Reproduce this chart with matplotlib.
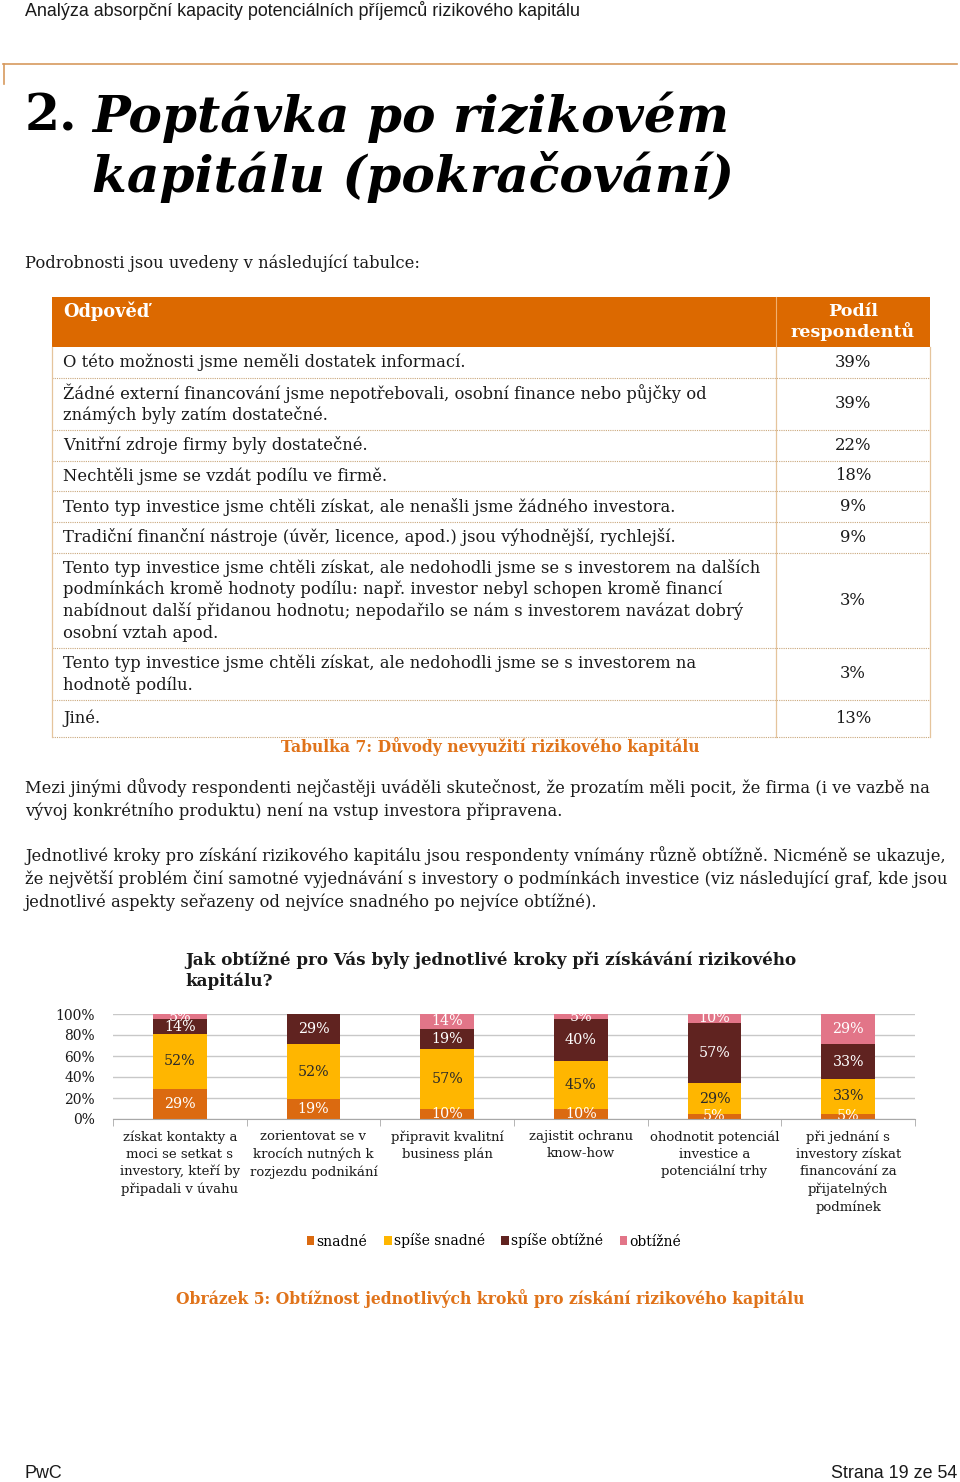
import matplotlib
matplotlib.use('Agg')
import matplotlib.pyplot as plt
from matplotlib.patches import Rectangle
from matplotlib.lines import Line2D

# ---------------- data ----------------
page_header = "Analýza absorpční kapacity potenciálních příjemců rizikového kapitálu"
title_num = "2."
title_lines = ["Poptávka po rizikovém", "kapitálu (pokračování)"]
intro = "Podrobnosti jsou uvedeny v následující tabulce:"

table_head = ["Odpověď", "Podíl\nrespondentů"]
table_answers = [
    "O této možnosti jsme neměli dostatek informací.",
    "Žádné externí financování jsme nepotřebovali, osobní finance nebo půjčky od\nznámých byly zatím dostatečné.",
    "Vnitřní zdroje firmy byly dostatečné.",
    "Nechtěli jsme se vzdát podílu ve firmě.",
    "Tento typ investice jsme chtěli získat, ale nenašli jsme žádného investora.",
    "Tradiční finanční nástroje (úvěr, licence, apod.) jsou výhodnější, rychlejší.",
    "Tento typ investice jsme chtěli získat, ale nedohodli jsme se s investorem na dalších\npodmínkách kromě hodnoty podílu: např. investor nebyl schopen kromě financí\nnabídnout další přidanou hodnotu; nepodařilo se nám s investorem navázat dobrý\nosobní vztah apod.",
    "Tento typ investice jsme chtěli získat, ale nedohodli jsme se s investorem na\nhodnotě podílu.",
    "Jiné.",
]
table_shares = [39, 39, 22, 18, 9, 9, 3, 3, 13]
table_caption = "Tabulka 7: Důvody nevyužití rizikového kapitálu"

para1 = ["Mezi jinými důvody respondenti nejčastěji uváděli skutečnost, že prozatím měli pocit, že firma (i ve vazbě na",
         "vývoj konkrétního produktu) není na vstup investora připravena."]
para2 = ["Jednotlivé kroky pro získání rizikového kapitálu jsou respondenty vnímány různě obtížně. Nicméně se ukazuje,",
         "že největší problém činí samotné vyjednávání s investory o podmínkách investice (viz následující graf, kde jsou",
         "jednotlivé aspekty seřazeny od nejvíce snadného po nejvíce obtížné)."]

chart_title = ["Jak obtížné pro Vás byly jednotlivé kroky při získávání rizikového", "kapitálu?"]
categories = [
    "získat kontakty a\nmoci se setkat s\ninvestory, kteří by\npřipadali v úvahu",
    "zorientovat se v\nkrocích nutných k\nrozjezdu podnikání",
    "připravit kvalitní\nbusiness plán",
    "zajistit ochranu\nknow-how",
    "ohodnotit potenciál\ninvestice a\npotenciální trhy",
    "při jednání s\ninvestory získat\nfinancování za\npřijatelných\npodmínek",
]
series_names = ["snadné", "spíše snadné", "spíše obtížné", "obtížné"]
snadne = [29, 19, 10, 10, 5, 5]
spise_snadne = [52, 52, 57, 45, 29, 33]
spise_obtizne = [14, 29, 19, 40, 57, 33]
obtizne = [5, 0, 14, 5, 10, 29]
y_ticks = [0, 20, 40, 60, 80, 100]
figure_caption = "Obrázek 5: Obtížnost jednotlivých kroků pro získání rizikového kapitálu"
footer_left = "PwC"
footer_right = "Strana 19 ze 54"

# ---------------- style ----------------
ORANGE = "#DC6900"
CAPTION = "#E0731A"
SERIES_COLORS = ["#DB6A10", "#FFB600", "#602320", "#E27588"]
LABEL_COLORS = ["white", "#2a2a2a", "white", "white"]
SERIF = "DejaVu Serif"
SANS = "Liberation Sans"
TXT = "#1a1a1a"
BODY = 11.75

W, H = 960, 1482
fig = plt.figure(figsize=(W / 100, H / 100), dpi=100)


def fx(x):
    return x / W


def fy(y):
    return 1 - y / H


def T(x, y, s, size=BODY, family=SERIF, ha="left", va="center", **kw):
    kw.setdefault("color", TXT)
    fig.text(fx(x), fy(y), s, fontsize=size, family=family, ha=ha, va=va, **kw)


def lines(x, y0, dy, text, **kw):
    for i, ln in enumerate(text.split("\n")):
        T(x, y0 + i * dy, ln, **kw)


# page header
T(25, 10, page_header, size=12.9, family=SANS)
fig.add_artist(Line2D([fx(3), fx(957)], [fy(64), fy(64)], color="#D79A5E", lw=1.2))
fig.add_artist(Line2D([fx(3.5), fx(3.5)], [fy(64), fy(84)], color="#D79A5E", lw=1.2))

# title
T(25, 117, title_num, size=36.2, weight="bold", color="black")
T(92, 117, title_lines[0], size=36.2, weight="bold", style="italic", color="black")
T(92, 177, title_lines[1], size=36.2, weight="bold", style="italic", color="black")

T(25, 263, intro, size=11.8)

# table
tl, tm, tr = 52, 776, 930
row_edges = [347, 378, 430, 461, 491, 522, 553, 648, 700, 737]
fig.add_artist(Rectangle((fx(tl), fy(347)), fx(tr) - fx(tl), fy(297) - fy(347),
                         facecolor=ORANGE, edgecolor="none"))
fig.add_artist(Line2D([fx(tm), fx(tm)], [fy(297), fy(347)], color="#F0B070", lw=0.8))
T(63, 311, table_head[0], size=12.8, weight="bold", color="white")
lines(853, 311, 21, table_head[1], size=12.6, weight="bold", color="white", ha="center")

BORDER = "#C9A77C"
for i, ans in enumerate(table_answers):
    top, bot = row_edges[i], row_edges[i + 1]
    n = ans.count("\n") + 1
    dy = 21.5
    y0 = (top + bot) / 2 - (n - 1) * dy / 2
    lines(63, y0, dy, ans)
    T(853, (top + bot) / 2, f"{table_shares[i]}%", ha="center")
for y in row_edges[1:]:
    fig.add_artist(Line2D([fx(tl), fx(tr)], [fy(y), fy(y)], color=BORDER, lw=0.8, ls=(0, (1, 1))))
for x in (tl, tm, tr):
    fig.add_artist(Line2D([fx(x), fx(x)], [fy(347), fy(737)], color="#E5C49C", lw=0.9))
T(490, 747, table_caption, size=11.25, weight="bold", color=CAPTION, ha="center")

# paragraphs
for i, ln in enumerate(para1):
    T(25, 788 + i * 23, ln)
for i, ln in enumerate(para2):
    T(25, 856 + i * 23, ln)

# chart title
for i, ln in enumerate(chart_title):
    T(185, 960 + i * 21, ln, size=12.1, weight="bold")

# chart
ax = fig.add_axes([fx(113), fy(1119), (915 - 113) / W, (1119 - 1014) / H])
series = [snadne, spise_snadne, spise_obtizne, obtizne]
x = list(range(len(categories)))
bottom = [0] * len(categories)
for s_vals, color, lcolor, name in zip(series, SERIES_COLORS, LABEL_COLORS, series_names):
    ax.bar(x, s_vals, bottom=bottom, width=0.4, color=color, label=name, zorder=2)
    for xi, v, b in zip(x, s_vals, bottom):
        if v > 0:
            ax.text(xi, b + v / 2, f"{v}%", ha="center", va="center", color=lcolor,
                    fontsize=10.3, family=SERIF, clip_on=True, zorder=3)
    bottom = [b + v for b, v in zip(bottom, s_vals)]

ax.set_xlim(-0.5, len(categories) - 0.5)
ax.set_ylim(0, 100)
ax.set_yticks(y_ticks)
ax.set_yticklabels([f"{t}%" for t in y_ticks], family=SERIF, fontsize=10, color=TXT)
ax.yaxis.grid(True, color="#C8C8C8", lw=1)
ax.set_axisbelow(True)
for sp in ("left", "top", "right"):
    ax.spines[sp].set_visible(False)
ax.spines["bottom"].set_color("#A8A8A8")
ax.tick_params(axis="y", length=0, pad=13)
ax.set_xticks(x)
ax.set_xticklabels(categories, family=SERIF, fontsize=9.5, color=TXT, linespacing=1.4, va="top")
ax.tick_params(axis="x", which="major", length=0, pad=8)
ax.set_xticks([i - 0.5 for i in range(len(categories) + 1)], minor=True)
ax.tick_params(axis="x", which="minor", length=5, color="#A8A8A8", direction="out")

handles = [Rectangle((0, 0), 1, 1, facecolor=c, edgecolor="none") for c in SERIES_COLORS]
fig.legend(handles, series_names, loc="center", bbox_to_anchor=(fx(494), fy(1241)), ncol=4,
           frameon=False, handlelength=0.55, handleheight=0.55, handletextpad=0.15,
           columnspacing=1.2, prop={"family": SERIF, "size": 10})

T(490, 1299, figure_caption, size=11.25, weight="bold", color=CAPTION, ha="center")

# footer
T(25, 1474, footer_left, size=12.9, family=SANS)
T(957, 1474, footer_right, size=12.9, family=SANS, ha="right")

fig.savefig("out.png", dpi=100)
